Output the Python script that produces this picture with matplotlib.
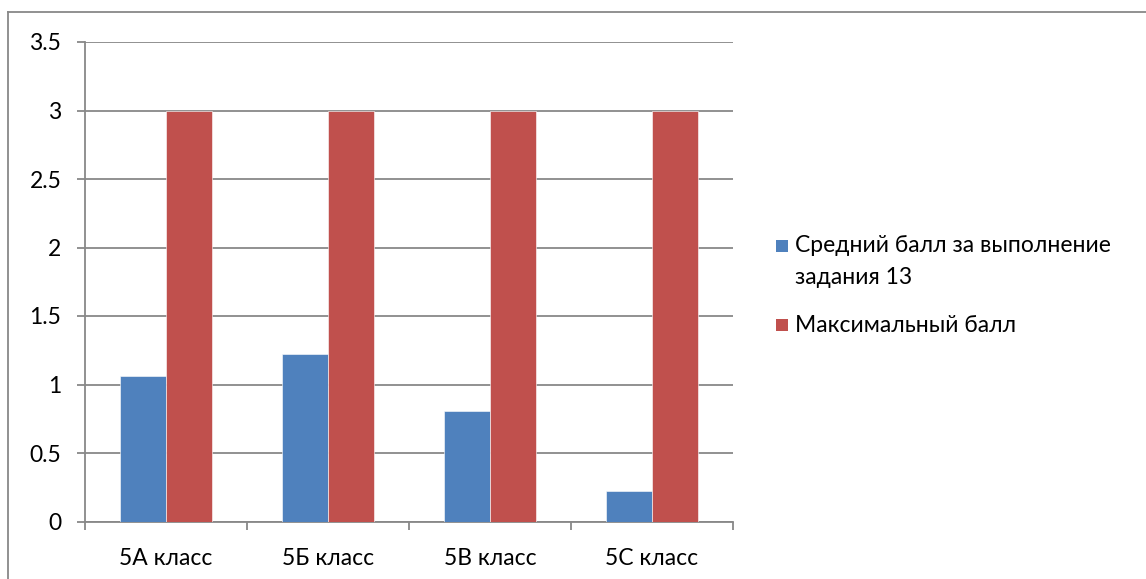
import matplotlib.pyplot as plt
from matplotlib.lines import Line2D
from matplotlib.patches import Rectangle
import numpy as np

plt.rcParams['font.family'] = ['Lato', 'DejaVu Sans']

categories = ["5А класс", "5Б класс", "5В класс", "5С класс"]
avg_score = [1.06, 1.22, 0.81, 0.22]
max_score = [3, 3, 3, 3]
series_names = [["Средний балл за выполнение", "задания 13"], ["Максимальный балл"]]

blue = "#4f81bd"
red = "#c0504d"
grid_col = "#888888"
fs = 16.5

W, H = 1146, 579
fig = plt.figure(figsize=(W / 100, H / 100), dpi=100)
ax = fig.add_axes([85 / W, 1 - 521.5 / H, (733 - 85) / W, (521.5 - 42) / H])

x = np.arange(len(categories))
bw = 0.285
ax.bar(x - bw / 2, avg_score, bw, color=blue, edgecolor="white", linewidth=0.4, zorder=3)
ax.bar(x + bw / 2, max_score, bw, color=red, edgecolor="white", linewidth=0.4, zorder=3)

ax.set_xlim(-0.5, len(categories) - 0.5)
ax.set_ylim(0, 3.5)
yt = np.arange(0, 3.51, 0.5)
ax.set_yticks(yt)
ax.set_yticklabels(["0", "0.5", "1", "1.5", "2", "2.5", "3", "3.5"], fontsize=fs)
ax.yaxis.grid(True, color=grid_col, linewidth=1.3, zorder=0)

ax.set_xticks(np.arange(-0.5, len(categories), 1.0))
ax.set_xticklabels([])
ax.set_xticks(x, minor=True)
ax.set_xticklabels(categories, minor=True, fontsize=fs)
ax.tick_params(axis="x", which="major", length=6, color=grid_col, width=1.3, direction="out")
ax.tick_params(axis="x", which="minor", length=0, pad=19)
ax.tick_params(axis="y", length=6, color=grid_col, width=1.3, pad=11)

for side in ["top", "right"]:
    ax.spines[side].set_visible(False)
for side in ["left", "bottom"]:
    ax.spines[side].set_color(grid_col)
    ax.spines[side].set_linewidth(1.3)

# legend: square aligned with the first text line, like the office chart
legend_rows = [(246, [246, 277]), (325, [325])]
for color, lines, (ys, line_ys) in zip([blue, red], series_names, legend_rows):
    fig.add_artist(Rectangle((776 / W, 1 - (ys + 6) / H), 12 / W, 12 / H,
                             facecolor=color, transform=fig.transFigure))
    for txt, ly in zip(lines, line_ys):
        fig.text(795 / W, 1 - ly / H, txt, fontsize=fs, va="center", ha="left")

# outer chart frame
fig.add_artist(Line2D([8 / W, 8 / W], [0, 1 - 12 / H], color=grid_col, linewidth=1.3,
                      transform=fig.transFigure))
fig.add_artist(Line2D([8 / W, 1], [1 - 12 / H, 1 - 12 / H], color=grid_col, linewidth=1.3,
                      transform=fig.transFigure))

fig.savefig("out.png", dpi=100)
